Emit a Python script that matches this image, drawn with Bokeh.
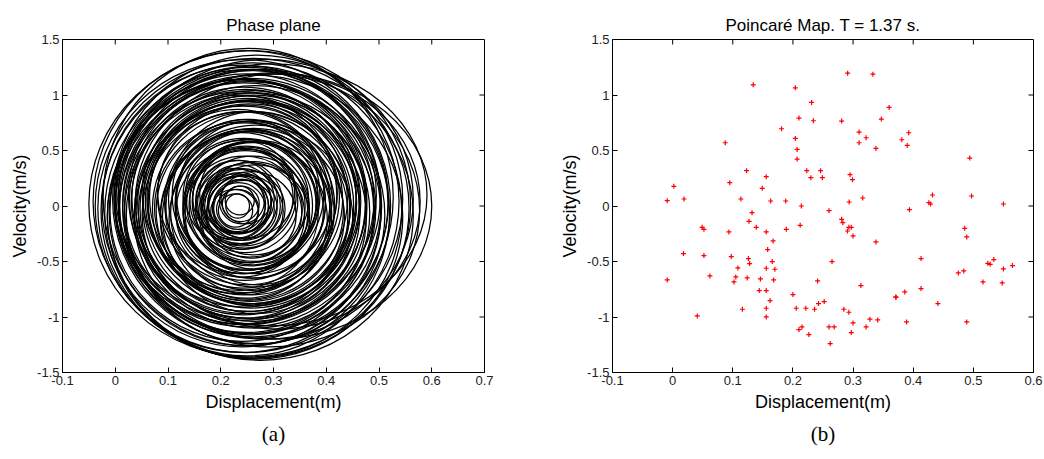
from bokeh.plotting import figure
from bokeh.layouts import row
from bokeh.models import Title, FixedTicker, Range1d
from bokeh.embed import file_html
from bokeh.resources import INLINE

# ---- (a) Phase plane: trajectory loops ----
# centre displacement (m), centre velocity (m/s), full width (m), full height (m/s)
loop_x = [0.255, 0.262, 0.248, 0.258, 0.242, 0.270, 0.250, 0.300, 0.308, 0.292,
          0.285, 0.240, 0.275, 0.296, 0.252, 0.265,
          0.258, 0.246, 0.262, 0.250, 0.240, 0.256, 0.266, 0.248, 0.254, 0.238,
          0.260, 0.250, 0.244, 0.264, 0.252, 0.240, 0.256, 0.248, 0.262, 0.244,
          0.254, 0.250, 0.258, 0.242, 0.252, 0.260, 0.246, 0.254, 0.250, 0.258,
          0.236, 0.268, 0.245, 0.255, 0.232, 0.262, 0.250, 0.242, 0.266, 0.248,
          0.256, 0.238, 0.260, 0.246, 0.252, 0.264, 0.240, 0.256, 0.248, 0.270,
          0.250, 0.262, 0.244, 0.256, 0.240, 0.258, 0.248, 0.264, 0.244, 0.254,
          0.250, 0.260, 0.238, 0.266, 0.246, 0.256, 0.242, 0.262, 0.250, 0.258,
          0.235, 0.242, 0.230, 0.238, 0.246, 0.226, 0.234, 0.242, 0.228, 0.236,
          0.244, 0.230, 0.238, 0.234, 0.248, 0.226, 0.240, 0.232, 0.238, 0.228,
          0.236, 0.232]
loop_v = [0.02, -0.02, 0.04, -0.04, 0.00, 0.06, -0.06, 0.00, 0.04, -0.04,
          0.06, 0.00, -0.08, 0.10, 0.08, -0.10,
          0.04, -0.06, 0.02, 0.08, -0.04, 0.00, -0.08, 0.06, -0.02, 0.04,
          0.10, -0.06, 0.02, -0.04, 0.06, 0.00, -0.10, 0.04, -0.02, 0.08,
          -0.06, 0.02, 0.06, -0.04, 0.00, 0.04, -0.08, 0.02, 0.06, -0.02,
          0.12, -0.12, 0.08, -0.04, 0.04, -0.10, 0.10, -0.02, 0.06, -0.08,
          0.00, 0.12, -0.06, 0.04, -0.12, 0.08, -0.04, 0.02, 0.10, -0.06,
          0.06, -0.04, 0.00, 0.08, -0.06, 0.02, -0.02, 0.04, -0.08, 0.06,
          0.00, -0.04, 0.10, -0.10, 0.04, -0.06, 0.08, -0.02, 0.12, -0.08,
          0.03, -0.03, 0.05, 0.00, -0.05, 0.02, 0.06, -0.02, 0.00, 0.03,
          -0.03, 0.02, 0.00, -0.02, 0.06, -0.05, 0.04, -0.03, 0.02, -0.04,
          0.05, 0.00]
loop_w = [0.61, 0.59, 0.58, 0.57, 0.56, 0.55, 0.54, 0.60, 0.54, 0.57,
          0.56, 0.53, 0.58, 0.59, 0.55, 0.56,
          0.520, 0.515, 0.510, 0.505, 0.500, 0.495, 0.490, 0.485, 0.480, 0.475,
          0.470, 0.465, 0.460, 0.455, 0.450, 0.445, 0.440, 0.435, 0.430, 0.425,
          0.420, 0.415, 0.410, 0.405, 0.400, 0.395, 0.390, 0.385, 0.380, 0.375,
          0.370, 0.365, 0.360, 0.355, 0.350, 0.345, 0.340, 0.335, 0.330, 0.325,
          0.320, 0.315, 0.310, 0.305, 0.300, 0.295, 0.290, 0.285, 0.280, 0.275,
          0.270, 0.265, 0.260, 0.255, 0.250, 0.245, 0.240, 0.235, 0.230, 0.225,
          0.220, 0.215, 0.210, 0.205, 0.200, 0.195, 0.190, 0.185, 0.180, 0.170,
          0.165, 0.160, 0.155, 0.150, 0.145, 0.140, 0.135, 0.130, 0.125, 0.120,
          0.115, 0.110, 0.105, 0.100, 0.095, 0.090, 0.085, 0.080, 0.070, 0.065,
          0.055, 0.045]
loop_h = [2.76, 2.70, 2.72, 2.66, 2.64, 2.60, 2.58, 2.40, 2.30, 2.46,
          2.52, 2.54, 2.62, 2.36, 2.68, 2.56,
          2.44, 2.40, 2.42, 2.34, 2.36, 2.30, 2.33, 2.26, 2.28, 2.20,
          2.24, 2.16, 2.18, 2.12, 2.14, 2.06, 2.10, 2.02, 2.04, 1.98,
          2.00, 1.94, 1.96, 1.88, 1.90, 1.84, 1.86, 1.80, 1.82, 1.74,
          1.76, 1.70, 1.72, 1.64, 1.66, 1.60, 1.62, 1.56, 1.58, 1.50,
          1.52, 1.46, 1.48, 1.42, 1.44, 1.38, 1.40, 1.34, 1.36, 1.30,
          1.26, 1.22, 1.22, 1.18, 1.16, 1.12, 1.12, 1.08, 1.06, 1.04,
          1.02, 0.98, 0.98, 0.94, 0.92, 0.90, 0.88, 0.84, 0.82, 0.78,
          0.76, 0.72, 0.72, 0.68, 0.66, 0.64, 0.62, 0.58, 0.58, 0.54,
          0.52, 0.50, 0.48, 0.46, 0.44, 0.40, 0.40, 0.36, 0.32, 0.30,
          0.26, 0.22]

# ---- (b) Poincaré map points ----
poin_x = [-0.009, 0.002, 0.019, -0.009, 0.018, 0.041, 0.049, 0.052, 0.052, 0.062,
          0.0875, 0.095, 0.0936, 0.0975, 0.1085, 0.105, 0.102, 0.1135, 0.116, 0.123,
          0.127, 0.132, 0.134, 0.126, 0.128, 0.124, 0.139, 0.144, 0.146, 0.149,
          0.1556, 0.1556, 0.158, 0.1556, 0.1556, 0.1556, 0.1556, 0.163, 0.167, 0.1656,
          0.170, 0.168, 0.162, 0.181, 0.188, 0.189, 0.200, 0.204, 0.204, 0.207,
          0.207, 0.210, 0.214, 0.212, 0.2055, 0.210, 0.215, 0.2215, 0.223, 0.2265,
          0.231, 0.234, 0.2298, 0.236, 0.241, 0.2425, 0.246, 0.249, 0.252, 0.260,
          0.260, 0.2686, 0.262, 0.265, 0.281, 0.281, 0.283, 0.2846, 0.291, 0.2907,
          0.293, 0.297, 0.293, 0.295, 0.299, 0.2935, 0.300, 0.297, 0.300, 0.310,
          0.310, 0.313, 0.316, 0.3217, 0.3217, 0.328, 0.333, 0.338, 0.338, 0.341,
          0.347, 0.360, 0.371, 0.3715, 0.381, 0.386, 0.389, 0.390, 0.3926, 0.3937,
          0.413, 0.413, 0.426, 0.429, 0.432, 0.441, 0.475, 0.484, 0.4856, 0.489,
          0.489, 0.494, 0.497, 0.516, 0.524, 0.528, 0.534, 0.550, 0.550, 0.548,
          0.565]
poin_v = [0.048, 0.177, 0.063, -0.666, -0.429, -0.990, -0.192, -0.210, -0.447, -0.630,
          0.570, 0.210, -0.234, -0.456, -0.558, -0.639, -0.684, 0.063, -0.930, 0.318,
          -0.138, -0.060, 1.092, -0.474, -0.519, -0.648, -0.192, -0.762, -0.657, 0.159,
          0.264, -0.234, -0.393, -0.561, -0.762, -0.921, -0.999, 0.045, -0.315, -0.501,
          -0.570, -0.666, -0.852, 0.696, 0.045, -0.210, -0.798, 1.065, 0.609, 0.510,
          0.423, 0.792, 0.000, -0.174, -0.921, -1.113, -1.089, -0.921, 0.318, -1.158,
          0.933, 0.768, 0.255, -0.930, -0.675, -0.879, 0.318, 0.255, -0.861, -0.042,
          -1.089, -1.089, -1.239, -0.501, 0.765, -0.120, -0.150, -0.930, 1.197, -0.225,
          -0.192, -0.192, -0.957, 0.282, 0.237, 0.036, -0.270, -1.140, -1.053, 0.666,
          0.570, -0.717, 0.072, 0.615, -1.089, -1.020, 1.188, 0.519, -0.324, -1.026,
          0.783, 0.888, -0.819, -0.822, 0.597, -0.774, -1.044, 0.546, 0.660, -0.033,
          -0.474, -0.744, 0.030, 0.018, 0.099, -0.879, -0.603, -0.585, -0.201, -0.279,
          -1.044, 0.432, 0.090, -0.684, -0.516, -0.525, -0.483, 0.018, -0.567, -0.693,
          -0.537]

x_ticks_a = [-0.1, 0.0, 0.1, 0.2, 0.3, 0.4, 0.5, 0.6, 0.7]
x_ticks_b = [-0.1, 0.0, 0.1, 0.2, 0.3, 0.4, 0.5, 0.6]
y_ticks = [-1.5, -1.0, -0.5, 0.0, 0.5, 1.0, 1.5]
x_labels_a = ["-0.1", "0", "0.1", "0.2", "0.3", "0.4", "0.5", "0.6", "0.7"]
x_labels_b = ["-0.1", "0", "0.1", "0.2", "0.3", "0.4", "0.5", "0.6"]
y_labels = ["-1.5", "-1", "-0.5", "0", "0.5", "1", "1.5"]

SANS = "Liberation Sans"
SERIF = "Liberation Serif"
FRAME_H = 333
TICK_PX = 5


def style_axis(ax, ticks, labels):
    ax.ticker = FixedTicker(ticks=ticks)
    ax.major_label_overrides = {t: l for t, l in zip(ticks, labels)}
    ax.minor_tick_line_color = None
    ax.major_tick_in = TICK_PX
    ax.major_tick_out = 0
    ax.major_tick_line_color = "black"
    ax.axis_line_color = "black"
    ax.major_label_text_font = SANS
    ax.major_label_text_font_size = "13px"
    ax.major_label_text_color = "#222222"
    ax.major_label_standoff = 3
    ax.axis_label_text_font = SANS
    ax.axis_label_text_font_style = "normal"
    ax.axis_label_text_font_size = "18px"
    ax.axis_label_text_color = "black"
    ax.axis_label_standoff = 4


def make_fig(title, x0, x1, xticks, xlabels, caption, fw, left, right):
    y0, y1 = -1.5, 1.5
    p = figure(frame_width=fw, frame_height=FRAME_H,
               x_range=Range1d(x0, x1), y_range=Range1d(y0, y1),
               output_backend="svg", toolbar_location=None,
               min_border_left=left, min_border_right=right,
               min_border_top=39, min_border_bottom=87,
               x_axis_label="Displacement(m)", y_axis_label="Velocity(m/s)")
    p.title.text = title
    p.title.align = "center"
    p.title.text_font = SANS
    p.title.text_font_style = "normal"
    p.title.text_font_size = "17px"
    p.title.text_color = "black"
    p.xgrid.visible = False
    p.ygrid.visible = False
    p.outline_line_color = "black"
    p.outline_line_width = 1
    p.background_fill_color = "white"
    p.border_fill_color = "white"
    style_axis(p.xaxis[0], xticks, xlabels)
    style_axis(p.yaxis[0], y_ticks, y_labels)
    # inward ticks on the top and right edges of the box (MATLAB "box on")
    dy = TICK_PX * (y1 - y0) / FRAME_H
    dx = TICK_PX * (x1 - x0) / fw
    tx = xticks[1:-1]
    p.segment(x0=tx, y0=[y1] * len(tx), x1=tx, y1=[y1 - dy] * len(tx),
              line_color="black", line_width=1)
    ty = y_ticks[1:-1]
    p.segment(x0=[x1] * len(ty), y0=ty, x1=[x1 - dx] * len(ty), y1=ty,
              line_color="black", line_width=1)
    cap = Title(text=caption, align="center", text_font=SERIF,
                text_font_size="21px", text_font_style="normal", text_color="black")
    p.add_layout(cap, "below")
    return p


pa = make_fig("Phase plane", -0.1, 0.7, x_ticks_a, x_labels_a, "(a)", 422, 62, 36)
pa.ellipse(x=loop_x, y=loop_v, width=loop_w, height=loop_h,
           fill_color=None, line_color="black", line_width=1.25)

pb = make_fig("Poincaré Map. T = 1.37 s.", -0.1, 0.6, x_ticks_b, x_labels_b, "(b)", 421, 92, 11)
pb.scatter(x=poin_x, y=poin_v, marker="cross", size=5, line_color="red", line_width=1.2)

layout = row(pa, pb)
open("out.html", "w").write(file_html(layout, INLINE))
